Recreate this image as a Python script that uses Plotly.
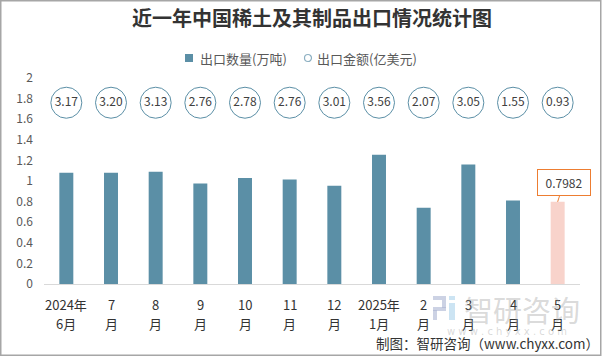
import plotly.graph_objects as go

# ---- data ----
categories = ["2024年6月", "7月", "8月", "9月", "10月", "11月", "12月",
              "2025年1月", "2月", "3月", "4月", "5月"]
label_top = ["2024年", "7", "8", "9", "10", "11", "12", "2025年", "2", "3", "4", "5"]
label_bottom = ["6月", "月", "月", "月", "月", "月", "月", "1月", "月", "月", "月", "月"]
export_qty = [1.08, 1.08, 1.09, 0.975, 1.03, 1.015, 0.955, 1.255, 0.74, 1.16, 0.81, 0.7982]
export_value = [3.17, 3.20, 3.13, 2.76, 2.78, 2.76, 3.01, 3.56, 2.07, 3.05, 1.55, 0.93]
series_names = ["出口数量(万吨)", "出口金额(亿美元)"]

# ---- layout constants ----
W, H = 602, 356
ML, MR, MT, MB = 44, 22, 78, 72
PW, PH = W - ML - MR, H - MT - MB
FONT = "Noto Sans CJK SC"
BAR = "#5B8FA6"
HILITE = "#F8D3CB"
CIRCLE_Y = 1.76

bar_colors = [BAR] * (len(categories) - 1) + [HILITE]


def px_x(x):
    return (x - ML) / PW


def px_y(y):
    return (MT + PH - y) / PH


fig = go.Figure()
fig.add_trace(go.Bar(
    x=categories, y=export_qty, name=series_names[0],
    marker=dict(color=bar_colors, line=dict(width=0)),
    showlegend=False, hoverinfo="skip"))
fig.add_trace(go.Scatter(
    x=categories, y=[CIRCLE_Y] * len(categories), mode="markers+text", name=series_names[1],
    text=[f"{v:.2f}" for v in export_value], textposition="middle center",
    textfont=dict(family=FONT, size=12, color="#404040"),
    marker=dict(symbol="circle", size=31, color="white", line=dict(color=BAR, width=1)),
    showlegend=False, hoverinfo="skip"))

annotations = []
for c, t, b in zip(categories, label_top, label_bottom):
    annotations.append(dict(x=c, xref="x", y=px_y(304),
                            yref="paper", text=t, showarrow=False,
                            font=dict(family=FONT, size=13, color="#333333"),
                            xanchor="center", yanchor="middle"))
    annotations.append(dict(x=c, xref="x", y=px_y(323),
                            yref="paper", text=b, showarrow=False,
                            font=dict(family=FONT, size=13, color="#333333"),
                            xanchor="center", yanchor="middle"))

# callout for last bar
annotations.append(dict(x=categories[-1], y=export_qty[-1], xref="x", yref="y",
                        text=f"{export_qty[-1]:.4f}", showarrow=True, arrowhead=0,
                        arrowcolor="#ED7D31", arrowwidth=1, ax=6, ay=-19, standoff=0,
                        bordercolor="#ED7D31", borderwidth=1, borderpad=4, bgcolor="white",
                        width=44, font=dict(family=FONT, size=12, color="#404040")))

# legend (manual)
annotations.append(dict(x=px_x(198), y=px_y(58), xref="paper", yref="paper",
                        text=series_names[0], showarrow=False, xanchor="left", yanchor="middle",
                        font=dict(family=FONT, size=13, color="#595959")))
annotations.append(dict(x=px_x(315), y=px_y(58), xref="paper", yref="paper",
                        text=series_names[1], showarrow=False, xanchor="left", yanchor="middle",
                        font=dict(family=FONT, size=13, color="#595959")))

# watermark
annotations.append(dict(x=px_x(522), y=px_y(309), xref="paper", yref="paper",
                        text="智研咨询", showarrow=False, xanchor="center", yanchor="middle",
                        font=dict(family=FONT, size=29, color="rgba(160,160,160,0.4)")))
annotations.append(dict(x=px_x(507), y=px_y(331), xref="paper", yref="paper",
                        text="w w w . c h y x x . c o m", showarrow=False,
                        xanchor="center", yanchor="middle",
                        font=dict(family="DejaVu Sans", size=10, color="rgba(160,160,160,0.4)")))
# footer
annotations.append(dict(x=px_x(601), y=px_y(343), xref="paper", yref="paper",
                        text="制图：智研咨询（www.chyxx.com）", showarrow=False,
                        xanchor="right", yanchor="middle",
                        font=dict(family=FONT, size=13.5, color="#333333")))

logo1 = "rgba(170,180,210,0.6)"
logo2 = "rgba(170,210,235,0.6)"
shapes = [
    # outer border
    dict(type="rect", xref="paper", yref="paper",
         x0=px_x(0.75), x1=px_x(W - 1.25), y0=px_y(H - 0.75), y1=px_y(0.75),
         line=dict(color="#A6A6A6", width=1.5), fillcolor="rgba(0,0,0,0)", layer="above"),
    # legend symbols
    dict(type="rect", xref="paper", yref="paper", x0=px_x(185), x1=px_x(193),
         y0=px_y(62), y1=px_y(54), line=dict(width=0), fillcolor=BAR),
    dict(type="circle", xref="paper", yref="paper", x0=px_x(304.5), x1=px_x(311.5),
         y0=px_y(61.5), y1=px_y(54.5), line=dict(width=1.2, color="#8DB0C2"),
         fillcolor="white"),
]
for (x0, x1, y0, y1, col) in [(433, 446, 296, 300, logo1), (442, 446, 300, 308, logo1),
                              (433, 446, 307, 311, logo1), (433, 437, 310, 320, logo1),
                              (449, 455, 303, 320, logo2), (449, 455, 296, 300, logo2)]:
    shapes.append(dict(type="rect", xref="paper", yref="paper", x0=px_x(x0), x1=px_x(x1),
                       y0=px_y(y1), y1=px_y(y0), line=dict(width=0), fillcolor=col))

fig.update_layout(
    width=W, height=H,
    margin=dict(l=ML, r=MR, t=MT, b=MB, pad=0, autoexpand=False),
    paper_bgcolor="white", plot_bgcolor="white",
    showlegend=False,
    title=dict(text="<b>近一年中国稀土及其制品出口情况统计图</b>", x=0.5, xref="paper",
               xanchor="center", y=1 - 19 / H, yref="container", yanchor="middle",
               font=dict(family=FONT, size=20, color="#333333")),
    bargap=0.687,
    xaxis=dict(type="category", range=[-0.5, len(categories) - 0.5], autorange=False,
               showticklabels=False, showgrid=False, automargin=False,
               showline=True, linecolor="#D9D9D9", linewidth=1, ticks="", zeroline=False),
    yaxis=dict(range=[0, 2], dtick=0.2, showgrid=False, zeroline=False, showline=False,
               automargin=False,
               tickfont=dict(family=FONT, size=12, color="#595959"), ticks="",
               ticklabelstandoff=10),
    annotations=annotations, shapes=shapes,
)

fig.write_html("out.html", config={"displayModeBar": False},
               post_script="document.body.style.margin='0';")
